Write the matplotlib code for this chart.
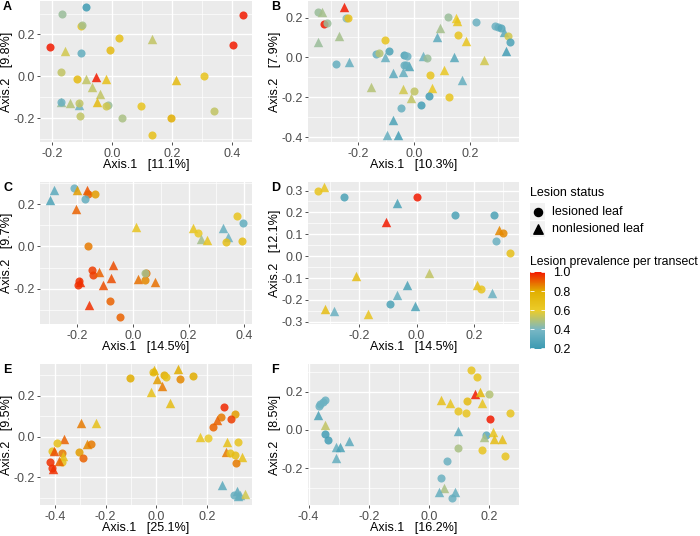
import numpy as np
import matplotlib
matplotlib.use('Agg')
import matplotlib.pyplot as plt
from matplotlib.colors import LinearSegmentedColormap, Normalize
from matplotlib.cm import ScalarMappable
from matplotlib.ticker import MultipleLocator

plt.rcParams['font.family'] = ['Liberation Sans', 'DejaVu Sans']

# ---- data ----
# lesioned: 1 = lesioned leaf (circle), 0 = nonlesioned leaf (triangle)
a_x = [-0.086, -0.166, -0.103, -0.100, 0.023, 0.134, -0.208, -0.158, -0.104, -0.008, 0.403, 0.438,
       -0.169, -0.117, -0.088, -0.052, -0.019, -0.067, -0.041, 0.214, 0.306, -0.171, -0.169, -0.141,
       -0.110, -0.110, -0.050, -0.014, -0.019, 0.098, -0.108, 0.033, 0.198, 0.339, 0.133]
a_y = [0.332, 0.297, 0.240, 0.247, 0.184, 0.176, 0.141, 0.121, 0.113, 0.125, 0.152, 0.295,
       0.022, -0.013, -0.013, -0.005, -0.013, -0.049, -0.084, -0.017, 0.003, -0.125, -0.121, -0.129,
       -0.135, -0.129, -0.121, -0.135, -0.141, -0.144, -0.189, -0.197, -0.197, -0.165, -0.279]
a_les = [1, 1, 1, 1, 1, 0, 1, 0, 1, 1, 1, 1,
         1, 1, 0, 0, 0, 0, 0, 0, 1, 0, 1, 0,
         0, 1, 0, 1, 1, 1, 1, 1, 1, 1, 1]
a_prev = [0.2, 0.45, 0.65, 0.47, 0.68, 0.52, 1.0, 0.55, 0.32, 0.72, 1.0, 1.0,
          0.52, 0.72, 0.52, 1.0, 0.68, 0.52, 0.52, 0.72, 0.66, 0.45, 0.35, 0.5,
          0.35, 0.52, 0.72, 0.45, 0.55, 0.65, 0.52, 0.48, 0.8, 0.52, 0.68]

b_x = [-0.346, -0.331, -0.251, -0.322, -0.313, -0.243, -0.238, -0.346, -0.271, -0.279, -0.235,
       -0.106, -0.137, -0.125, -0.090, -0.104, -0.035, -0.024, -0.036, -0.018, -0.028, -0.076,
       -0.038, 0.033, 0.045, -0.154, -0.038, -0.002, -0.012, 0.057, 0.107, 0.066, 0.125, 0.054,
       0.024, -0.047, -0.076, -0.098, -0.059, 0.123, 0.149, 0.153, 0.159, 0.186, 0.093, 0.081,
       0.143, 0.173, 0.252, 0.224, 0.290, 0.302, 0.314, 0.322, 0.338, 0.346, 0.330]
b_y = [0.230, 0.228, 0.253, 0.170, 0.172, 0.200, 0.200, 0.078, 0.105, -0.033, -0.025,
       0.087, 0.017, 0.022, 0.033, 0.003, 0.013, 0.008, -0.037, -0.045, -0.040, -0.078,
       -0.075, 0.005, -0.005, -0.150, -0.158, -0.167, -0.203, -0.087, -0.062, -0.153, -0.200, -0.192,
       -0.238, -0.253, -0.313, -0.392, -0.392, 0.203, 0.197, 0.183, 0.113, 0.083, 0.147, 0.100,
       0.003, -0.113, -0.012, 0.178, 0.158, 0.153, 0.147, 0.128, 0.108, 0.078, 0.030]
b_les = [1, 0, 0, 1, 1, 1, 1, 0, 0, 1, 0,
         1, 1, 1, 1, 0, 1, 1, 1, 0, 1, 0,
         0, 0, 1, 0, 0, 1, 0, 1, 0, 0, 1, 1,
         1, 1, 0, 0, 0, 1, 0, 0, 1, 0, 0, 0,
         0, 0, 0, 1, 1, 1, 1, 0, 1, 1, 0]
b_prev = [0.45, 0.47, 1.0, 1.0, 0.45, 0.42, 0.68, 0.45, 0.47, 0.33, 0.33,
          0.65, 0.33, 0.5, 0.25, 0.33, 0.25, 0.35, 0.33, 0.25, 0.33, 0.3,
          0.33, 0.35, 0.45, 0.5, 0.55, 0.52, 0.52, 0.65, 0.63, 0.63, 0.65, 0.22,
          0.22, 0.33, 0.25, 0.33, 0.22, 0.45, 0.6, 0.65, 0.65, 0.65, 0.47, 0.3,
          0.28, 0.33, 0.55, 0.35, 0.35, 0.33, 0.28, 0.3, 0.55, 0.25, 0.22]

c_x = [-0.282, -0.298, -0.211, -0.202, -0.166, -0.162, -0.171, -0.137, -0.204, -0.162, 0.012,
       -0.147, -0.142, -0.123, -0.070, -0.078, -0.106, -0.195, -0.197, -0.192, -0.159, -0.084,
       -0.048, 0.018, 0.042, 0.048, 0.042, 0.078, 0.216, 0.234, 0.246, 0.268, 0.324, 0.342,
       0.334, 0.375, 0.396, 0.393]
c_y = [0.267, 0.222, 0.276, 0.267, 0.267, 0.251, 0.225, 0.251, 0.178, 0.000, 0.092,
       -0.111, -0.135, -0.119, -0.087, -0.151, -0.183, -0.162, -0.183, -0.171, -0.278, -0.259,
       -0.333, -0.154, -0.159, -0.127, -0.124, -0.171, 0.088, 0.064, 0.037, 0.029, 0.088, 0.045,
       0.021, 0.143, 0.111, 0.024]
c_les = [0, 0, 1, 0, 0, 1, 1, 1, 0, 1, 0,
         1, 1, 0, 0, 0, 0, 1, 1, 0, 0, 1,
         1, 0, 1, 1, 1, 0, 0, 1, 0, 0, 0, 0,
         1, 1, 1, 1]
c_prev = [0.3, 0.25, 0.35, 0.82, 0.92, 0.9, 0.33, 0.82, 0.9, 0.87, 0.65,
          0.95, 0.95, 0.9, 0.93, 0.93, 0.93, 0.97, 0.97, 0.97, 0.97, 0.9,
          0.9, 0.88, 0.85, 0.88, 0.47, 0.88, 0.65, 0.62, 0.47, 0.65, 0.33, 0.35,
          0.68, 0.65, 0.32, 0.7]

d_x = [-0.343, -0.320, -0.253, -0.067, 0.002, -0.106, 0.133, 0.266, 0.285, 0.297, 0.274, 0.323,
       -0.209, 0.044, -0.033, -0.069, -0.092, -0.005, 0.209, 0.221, 0.262, -0.316, -0.287, -0.167]
d_y = [0.300, 0.315, 0.270, 0.244, 0.270, 0.154, 0.189, 0.189, 0.121, 0.104, 0.071, 0.014,
       -0.090, -0.075, -0.133, -0.178, -0.219, -0.228, -0.133, -0.151, -0.170, -0.241, -0.249, -0.264]
d_les = [1, 0, 1, 0, 1, 0, 1, 1, 0, 1, 1, 1,
         0, 0, 0, 0, 1, 0, 0, 1, 0, 0, 0, 0]
d_prev = [0.65, 0.65, 0.25, 0.25, 1.0, 1.0, 0.25, 0.25, 0.85, 0.85, 0.35, 0.68,
          0.7, 0.52, 0.25, 0.33, 0.25, 0.25, 0.7, 0.65, 0.35, 0.7, 0.35, 0.65]

e_x = [-0.105, -0.013, -0.009, 0.003, 0.030, 0.039, 0.086, 0.092, 0.145, 0.022, -0.022, 0.053,
       -0.296, -0.237, -0.362, -0.392, -0.411, -0.401, -0.371, -0.366, -0.371, -0.382, -0.418,
       -0.412, -0.408, -0.274, -0.257, -0.303, -0.289, 0.267, 0.309, 0.295, 0.254, 0.239, 0.223,
       0.171, 0.204, 0.279, 0.322, 0.274, 0.289, 0.309, 0.336, 0.313, 0.259, 0.316, 0.305, 0.329,
       0.349, 0.320]
e_y = [0.289, 0.318, 0.327, 0.282, 0.302, 0.294, 0.331, 0.281, 0.297, 0.250, 0.217, 0.163,
       0.065, 0.069, -0.013, -0.029, -0.069, -0.070, -0.082, -0.093, -0.122, -0.119, -0.126,
       -0.155, -0.158, -0.038, -0.038, -0.073, -0.106, 0.144, 0.111, 0.088, 0.098, 0.082, 0.049,
       0.000, -0.005, -0.024, -0.024, -0.073, -0.081, -0.090, -0.101, -0.130, -0.237, -0.266, -0.285,
       -0.285, -0.280, -0.290]
e_les = [1, 1, 0, 0, 1, 1, 0, 1, 1, 0, 0, 0,
         0, 0, 0, 1, 1, 0, 1, 0, 1, 0, 1,
         1, 0, 0, 1, 1, 1, 1, 1, 1, 1, 0, 1,
         0, 1, 0, 1, 0, 1, 1, 0, 1, 0, 0, 1,
         0, 0, 0]
e_prev = [0.8, 0.7, 0.75, 0.82, 0.8, 0.68, 0.8, 0.85, 0.8, 0.87, 0.68, 0.7,
          0.87, 0.68, 0.9, 0.68, 0.68, 0.93, 0.87, 0.68, 0.68, 0.9, 0.97,
          0.97, 0.97, 0.85, 0.87, 0.82, 0.9, 0.98, 0.82, 0.95, 0.87, 0.9, 0.9,
          0.65, 0.62, 0.68, 0.65, 0.87, 0.68, 0.7, 0.68, 0.87, 0.3, 0.3, 0.33,
          0.33, 0.55, 0.32]

f_x = [-0.345, -0.352, -0.361, -0.367, -0.370, -0.347, -0.345, -0.337, -0.308, -0.297, -0.310,
       -0.267, 0.138, 0.161, 0.152, 0.169, 0.199, 0.175, 0.040, 0.070, 0.125, 0.097, 0.122, 0.270,
       0.202, 0.097, 0.188, 0.182, 0.213, 0.217, 0.244, 0.177, 0.252, 0.097, 0.059, 0.039, 0.050,
       0.033, 0.076, 0.088]
f_y = [0.157, 0.148, 0.136, 0.125, 0.078, 0.026, -0.021, -0.052, -0.087, -0.087, -0.144,
       -0.056, 0.313, 0.275, 0.188, 0.200, 0.188, 0.139, 0.157, 0.139, 0.153, 0.099, 0.087, 0.087,
       0.057, -0.005, -0.026, -0.038, -0.009, -0.049, -0.049, -0.104, -0.136, -0.096, -0.162, -0.249,
       -0.301, -0.322, -0.357, -0.322]
f_les = [1, 1, 1, 1, 0, 0, 1, 1, 0, 0, 0,
         0, 1, 1, 0, 0, 1, 0, 0, 0, 1, 1, 1, 1,
         1, 0, 1, 0, 0, 0, 0, 1, 1, 1, 1, 1, 0,
         0, 1, 0]
f_prev = [0.35, 0.35, 0.35, 0.35, 0.25, 0.52, 0.22, 0.22, 0.33, 0.25, 0.33,
          0.3, 0.65, 0.65, 1.0, 0.75, 0.5, 0.65, 0.68, 0.65, 0.72, 0.65, 0.65, 0.65,
          1.0, 0.3, 0.3, 0.48, 0.65, 0.7, 0.7, 0.65, 0.65, 0.48, 0.35, 0.35, 0.48,
          0.33, 0.35, 0.33]

panel_labels = ['A', 'B', 'C', 'D', 'E', 'F']
var1 = ['11.1%', '10.3%', '14.5%', '14.5%', '25.1%', '16.2%']
var2 = ['9.8%', '7.9%', '9.7%', '12.1%', '9.5%', '8.5%']
xticks = [[-0.2, 0.0, 0.2, 0.4], [-0.2, 0.0, 0.2], [-0.2, 0.0, 0.2, 0.4],
          [-0.2, 0.0, 0.2], [-0.4, -0.2, 0.0, 0.2], [-0.4, -0.2, 0.0, 0.2]]
yticks = [[-0.2, 0.0, 0.2], [-0.4, -0.2, 0.0, 0.2], [-0.2, 0.0, 0.2],
          [-0.3, -0.2, -0.1, 0.0, 0.1, 0.2, 0.3], [-0.2, 0.0, 0.2], [-0.2, 0.0, 0.2]]
xlims = [(-0.24, 0.467), (-0.381, 0.377), (-0.334, 0.428), (-0.376, 0.354), (-0.458, 0.376), (-0.402, 0.299)]
ylims = [(-0.314, 0.36), (-0.425, 0.283), (-0.368, 0.306), (-0.31, 0.339), (-0.335, 0.356), (-0.391, 0.344)]

zissou = ['#3B9AB2', '#78B7C5', '#EBCC2A', '#E1AF00', '#F21A00']
cmap = LinearSegmentedColormap.from_list('zissou', zissou)
norm = Normalize(vmin=0.19, vmax=1.0)

W, H = 700, 536
fig = plt.figure(figsize=(W / 100, H / 100), dpi=100)
FS = 9


def px_axes(left, top, right, bottom):
    return fig.add_axes([left / W, 1 - bottom / H, (right - left) / W, (bottom - top) / H])


def draw_panel(ax, x, y, les, prev, i):
    ax.set_facecolor('#EBEBEB')
    for s in ax.spines.values():
        s.set_visible(False)
    x = np.asarray(x)
    y = np.asarray(y)
    les = np.asarray(les)
    prev = np.asarray(prev)
    for k in range(len(x)):
        mk = 'o' if les[k] == 1 else '^'
        sz = 34 if les[k] == 1 else 46
        ax.scatter(x[k], y[k], s=sz, marker=mk, c=[prev[k]], cmap=cmap, norm=norm,
                   alpha=0.85, linewidths=0, zorder=3)
    ax.set_xlim(*xlims[i])
    ax.set_ylim(*ylims[i])
    ax.set_xticks(xticks[i])
    ax.set_yticks(yticks[i])
    ax.set_xticklabels(['%.1f' % t for t in xticks[i]])
    ax.set_yticklabels(['%.1f' % t for t in yticks[i]])
    dx = xticks[i][1] - xticks[i][0]
    dy = yticks[i][1] - yticks[i][0]
    ax.xaxis.set_minor_locator(MultipleLocator(dx / 2))
    ax.yaxis.set_minor_locator(MultipleLocator(dy / 2))
    ax.grid(which='major', color='white', lw=1.0, zorder=0)
    ax.grid(which='minor', color='white', lw=0.5, zorder=0)
    ax.set_axisbelow(True)
    ax.tick_params(which='major', length=2.5, width=0.6, color='#333333',
                   labelsize=FS, labelcolor='#4D4D4D', pad=1.5)
    ax.tick_params(which='minor', length=0)


boxes = [(40, 1, 252, 142), (308, 1, 519, 142),
         (40, 182, 252, 324), (308, 182, 519, 324),
         (40, 364, 252, 505), (308, 364, 519, 505)]
data = [(a_x, a_y, a_les, a_prev), (b_x, b_y, b_les, b_prev),
        (c_x, c_y, c_les, c_prev), (d_x, d_y, d_les, d_prev),
        (e_x, e_y, e_les, e_prev), (f_x, f_y, f_les, f_prev)]

for i in range(6):
    l, t, r, b = boxes[i]
    ax = px_axes(l, t, r, b)
    draw_panel(ax, *data[i], i)
    fig.text((l + r) / 2 / W, 1 - (b + 23) / H, 'Axis.1   [%s]' % var1[i],
             fontsize=FS, ha='center', va='center')
    fig.text((l - 33) / W, 1 - (t + b) / 2 / H, 'Axis.2   [%s]' % var2[i],
             fontsize=FS, ha='center', va='center', rotation=90)
    fig.text((l - 37) / W, 1 - (t + 6) / H, panel_labels[i],
             fontsize=FS, fontweight='bold', va='center', ha='left')

# legend: lesion status
fig.text(530 / W, 1 - 193 / H, 'Lesion status', fontsize=FS, va='center', ha='left')
kax = px_axes(530, 203, 545, 237)
kax.set_facecolor('#F2F2F2')
for s in kax.spines.values():
    s.set_visible(False)
kax.set_xticks([])
kax.set_yticks([])
kax.set_xlim(0, 1)
kax.set_ylim(0, 2)
kax.axhline(1, color='white', lw=1)
kax.scatter([0.5], [1.5], s=34, marker='o', color='black')
kax.scatter([0.5], [0.5], s=46, marker='^', color='black')
fig.text(552 / W, 1 - 212 / H, 'lesioned leaf', fontsize=FS, va='center', ha='left')
fig.text(552 / W, 1 - 229 / H, 'nonlesioned leaf', fontsize=FS, va='center', ha='left')

# legend: colour bar
fig.text(530 / W, 1 - 262 / H, 'Lesion prevalence per transect', fontsize=8.8, va='center', ha='left')
cax = px_axes(530, 272, 545, 349)
cb = fig.colorbar(ScalarMappable(norm=norm, cmap=cmap), cax=cax, ticks=[0.2, 0.4, 0.6, 0.8, 1.0])
cb.outline.set_visible(False)
cb.ax.set_yticklabels(['0.2', '0.4', '0.6', '0.8', '1.0'])
cb.ax.tick_params(length=3, width=0.6, color='white', direction='in', labelsize=FS,
                  labelcolor='#000000', pad=6, left=True, right=True)

fig.savefig('out.png', dpi=100)
